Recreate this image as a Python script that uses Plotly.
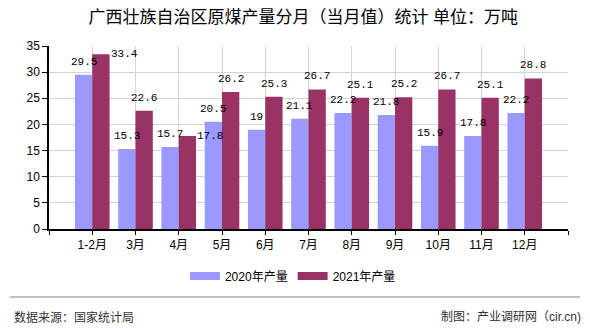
import plotly.graph_objects as go

# Monthly raw-coal output, Guangxi (10k tonnes)
months = ["1-2月", "3月", "4月", "5月", "6月", "7月", "8月", "9月", "10月", "11月", "12月"]
output_2020 = [29.5, 15.3, 15.7, 20.5, 19, 21.1, 22.2, 21.8, 15.9, 17.8, 22.2]
output_2021 = [33.4, 22.6, 17.8, 26.2, 25.3, 26.7, 25.1, 25.2, 26.7, 25.1, 28.8]
y_ticks = [0, 5, 10, 15, 20, 25, 30, 35]

COLOR_2020 = "#9999FF"
COLOR_2021 = "#993366"
CJK = "Liberation Sans, Noto Sans CJK SC, sans-serif"
MONO = "Liberation Mono, DejaVu Sans Mono, monospace"

BAR_W = 0.4
positions = list(range(1, len(months) + 1))

# 2021 labels that sit beside the bar instead of above it (avoid collisions)
beside_2021 = {0, 2}

fig = go.Figure()
fig.add_trace(go.Bar(
    name="2020年产量", x=positions, y=output_2020, showlegend=False,
    width=BAR_W, offset=-BAR_W, marker=dict(color=COLOR_2020, line=dict(width=0)),
))
fig.add_trace(go.Bar(
    name="2021年产量", x=positions, y=output_2021, showlegend=False,
    width=BAR_W, offset=0, marker=dict(color=COLOR_2021, line=dict(width=0)),
))
# wide flat legend swatches
for name, color in [("2020年产量", COLOR_2020), ("2021年产量", COLOR_2021)]:
    fig.add_trace(go.Scatter(
        name=name, x=[None], y=[None], mode="lines",
        line=dict(color=color, width=8), hoverinfo="skip",
    ))

annotations = []
for i, v in enumerate(output_2020):
    annotations.append(dict(
        x=positions[i] - BAR_W / 2, y=v, xref="x", yref="y", text=f"{v:g}",
        showarrow=False, yanchor="middle", yshift=13,
        font=dict(family=MONO, size=11, color="#000000"),
    ))
for i, v in enumerate(output_2021):
    if i in beside_2021:
        annotations.append(dict(
            x=positions[i] + BAR_W, y=v, xref="x", yref="y", text=f"{v:g}",
            showarrow=False, xanchor="left", yanchor="middle", xshift=-1, yshift=0,
            font=dict(family=MONO, size=11, color="#000000"),
        ))
    else:
        annotations.append(dict(
            x=positions[i] + BAR_W / 2, y=v, xref="x", yref="y", text=f"{v:g}",
            showarrow=False, yanchor="middle", yshift=13,
            font=dict(family=MONO, size=11, color="#000000"),
        ))

# footer
annotations.append(dict(
    x=-0.0713, y=-0.482, xref="paper", yref="paper", text="数据来源：国家统计局",
    showarrow=False, xanchor="left", yanchor="middle",
    font=dict(family=CJK, size=12, color="#333333"),
))
annotations.append(dict(
    x=1.0289, y=-0.482, xref="paper", yref="paper", text="制图：产业调研网（cir.cn)",
    showarrow=False, xanchor="right", yanchor="middle",
    font=dict(family=CJK, size=12, color="#333333"),
))

fig.update_layout(
    width=590, height=330,
    margin=dict(l=49, r=22, t=46, b=101, autoexpand=False),
    paper_bgcolor="#FFFFFF", plot_bgcolor="#FFFFFF",
    title=dict(
        text="广西壮族自治区原煤产量分月（当月值）统计 单位：万吨",
        x=0.514, xref="container", xanchor="center",
        y=1 - 17 / 330, yref="container", yanchor="middle",
        font=dict(family=CJK, size=17, color="#000000"),
    ),
    showlegend=True,
    legend=dict(
        orientation="h", x=0.47, xref="paper", xanchor="center",
        y=-0.257, yref="paper", yanchor="middle",
        font=dict(family=CJK, size=12, color="#000000"),
        traceorder="normal", bgcolor="rgba(0,0,0,0)",
        itemwidth=30,
    ),
    annotations=annotations,
    shapes=[dict(
        type="line", xref="paper", yref="paper",
        x0=-0.0751, x1=1.0231, y0=-0.3716, y1=-0.3716,
        line=dict(color="#808080", width=1.2),
    )],
)

fig.update_xaxes(
    range=[0, len(months) + 1],
    tickmode="array",
    tickvals=list(range(0, len(months) + 2)),
    ticktext=[""] + months + [""],
    tickangle=0,
    showgrid=True, gridcolor="#D4D4D4", gridwidth=1,
    showline=True, linecolor="#000000", linewidth=1.5,
    ticks="outside", ticklen=4, tickcolor="#000000",
    tickfont=dict(family=CJK, size=12, color="#000000"),
    zeroline=False, automargin=False,
)
fig.update_yaxes(
    range=[0, 35],
    tickmode="array", tickvals=y_ticks,
    showgrid=True, gridcolor="#D4D4D4", gridwidth=1,
    showline=True, linecolor="#000000", linewidth=1.5,
    ticks="outside", ticklen=5, tickcolor="#000000",
    tickfont=dict(family=CJK, size=12, color="#000000"),
    zeroline=False, automargin=False,
)

fig.write_html("out.html")
